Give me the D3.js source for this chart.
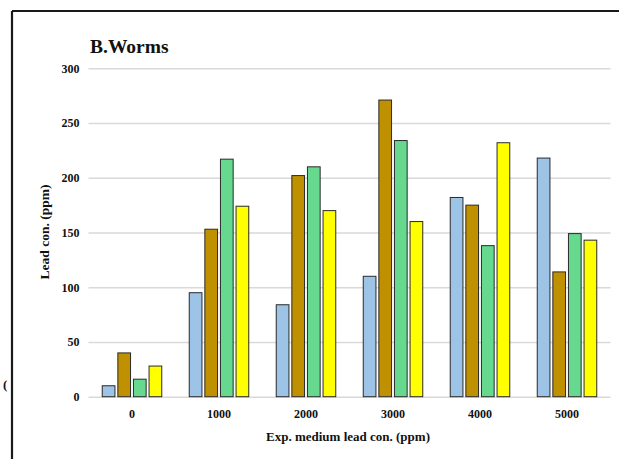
<html>
  <head>
    <style>
      body { margin: 0; background: #fff; }
      text { font-family: "Liberation Serif", "Times New Roman", serif; font-weight: bold; fill: #111; }
    </style>
  </head>
  <body>
    <svg id="container" width="619" height="459"></svg>
  </body>
  <script src="https://cdn.jsdelivr.net/npm/d3@7"></script>
  <script>
    // lead concentration in worms, four series per exposure level
    let categories = ["0", "1000", "2000", "3000", "4000", "5000"];
    let seriesNames = ["s1", "s2", "s3", "s4"];
    let s1 = [10, 95, 84, 110, 182, 218];
    let s2 = [40, 153, 202, 271, 175, 114];
    let s3 = [16, 217, 210, 234, 138, 149];
    let s4 = [28, 174, 170, 160, 232, 143];
    let yTicks = [0, 50, 100, 150, 200, 250, 300];
    let colors = ["#9dc3e6", "#bf9000", "#66d98f", "#ffff00"];

    let svg = d3.select("#container");
    let values = [s1, s2, s3, s4];

    // frame
    svg.append("line").attr("x1", 12).attr("x2", 12).attr("y1", 11).attr("y2", 459)
      .attr("stroke", "#1a1a1a").attr("stroke-width", 2.2);
    svg.append("line").attr("x1", 12).attr("x2", 619).attr("y1", 11).attr("y2", 11)
      .attr("stroke", "#1a1a1a").attr("stroke-width", 2.2);

    let x0 = d3.scaleBand()
      .domain(categories)
      .range([88.5, 610.5])
      .paddingInner(0.316)
      .paddingOuter(0.158);
    let x1 = d3.scaleBand()
      .domain(seriesNames)
      .range([0, x0.bandwidth()])
      .paddingInner(0.186);
    let y = d3.scaleLinear().domain([0, 300]).range([396.7, 68.3]);

    // gridlines + y labels
    let yAxis = svg.append("g")
      .attr("transform", "translate(88.5,0)")
      .call(d3.axisLeft(y).tickValues(yTicks).tickSize(-522).tickPadding(9));
    yAxis.select(".domain").remove();
    yAxis.selectAll(".tick line").attr("stroke", "#d9d9d9").attr("stroke-width", 1.5);
    yAxis.selectAll(".tick text").attr("font-size", 12).attr("font-family", "Liberation Serif");

    // bars
    let groups = svg.append("g").selectAll("g")
      .data(categories)
      .join("g")
      .attr("transform", d => "translate(" + x0(d) + ",0)");
    groups.selectAll("rect")
      .data((d, i) => seriesNames.map((s, j) => ({ s: s, v: values[j][i], c: colors[j] })))
      .join("rect")
      .attr("x", d => x1(d.s))
      .attr("width", x1.bandwidth())
      .attr("y", d => y(d.v))
      .attr("height", d => y(0) - y(d.v))
      .attr("fill", d => d.c)
      .attr("stroke", "#2a2a2a")
      .attr("stroke-width", 1);

    // x labels
    let xAxis = svg.append("g")
      .attr("transform", "translate(0,396.7)")
      .call(d3.axisBottom(x0).tickSize(0).tickPadding(13));
    xAxis.select(".domain").remove();
    xAxis.selectAll(".tick text").attr("font-size", 12).attr("font-family", "Liberation Serif");

    svg.append("text").attr("x", 90).attr("y", 53).attr("font-size", 19.5).text("B.Worms");

    svg.append("text")
      .attr("x", 348).attr("y", 441)
      .attr("text-anchor", "middle").attr("font-size", 13)
      .text("Exp. medium lead con. (ppm)");

    svg.append("text")
      .attr("transform", "translate(49,232) rotate(-90)")
      .attr("text-anchor", "middle").attr("font-size", 13.5)
      .text("Lead con. (ppm)");

    svg.append("text").attr("x", 3).attr("y", 389).attr("font-size", 13).text("(");
  </script>
</html>
